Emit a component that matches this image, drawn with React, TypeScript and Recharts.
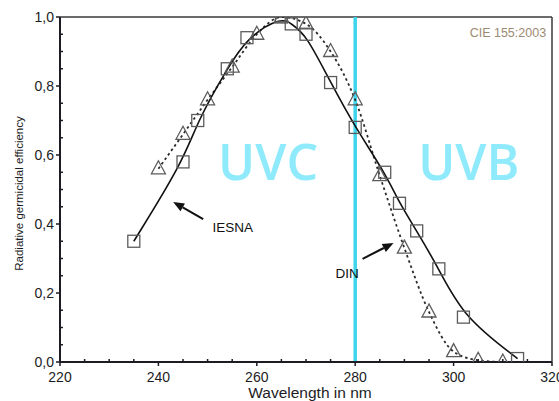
import { ComposedChart, Line, XAxis, YAxis, ReferenceLine, ReferenceDot } from 'recharts';

// IESNA curve (squares, solid line)
const iesnaWavelength = [235, 245, 248, 254, 258, 265, 267, 270, 275, 280, 286, 289, 292.5, 297, 302, 313];
const iesnaValue = [0.35, 0.58, 0.7, 0.85, 0.94, 1.0, 0.98, 0.95, 0.81, 0.68, 0.55, 0.46, 0.38, 0.27, 0.13, 0.01];

// DIN curve (triangles, dotted line)
const dinWavelength = [240, 245, 250, 255, 260, 265, 270, 275, 280, 285, 290, 295, 300, 305, 310];
const dinValue = [0.56, 0.66, 0.76, 0.855, 0.95, 1.0, 0.98, 0.9, 0.76, 0.54, 0.33, 0.145, 0.03, 0.005, 0];

const xTicks = [220, 225, 230, 235, 240, 245, 250, 255, 260, 265, 270, 275, 280, 285, 290, 295, 300, 305, 310, 315, 320];
const yTicks = [0, 0.05, 0.1, 0.15, 0.2, 0.25, 0.3, 0.35, 0.4, 0.45, 0.5, 0.55, 0.6, 0.65, 0.7, 0.75, 0.8, 0.85, 0.9, 0.95, 1.0];

const UV_BOUNDARY = 280;

const iesnaData = iesnaWavelength.map((x, i) => ({ x, y: iesnaValue[i] }));
const dinData = dinWavelength.map((x, i) => ({ x, y: dinValue[i] }));

const FONT = '"Liberation Sans", Arial, sans-serif';
const INK = '#1c1c24';
const MARKER = '#5c5c5c';

function XTick({ x, y, payload }: any) {
  const v = payload.value;
  const major = v % 20 === 0;
  return (
    <g>
      {major ? (
        <line x1={x} y1={y} x2={x} y2={y + 4} stroke={INK} strokeWidth={1.5} />
      ) : (
        <line x1={x} y1={y} x2={x} y2={y - 3} stroke={INK} strokeWidth={1.5} />
      )}
      {major && (
        <text x={x} y={y + 20} textAnchor="middle" fontSize={14} fontFamily={FONT} fill={INK}>
          {v}
        </text>
      )}
    </g>
  );
}

function YTick({ x, y, payload }: any) {
  const v = payload.value;
  const major = Math.round(v * 100) % 20 === 0;
  return (
    <g>
      {major ? (
        <line x1={x} y1={y} x2={x - 4} y2={y} stroke={INK} strokeWidth={1.5} />
      ) : (
        <line x1={x} y1={y} x2={x + 3} y2={y} stroke={INK} strokeWidth={1.5} />
      )}
      {major && (
        <text x={x - 6} y={y + 5} textAnchor="end" fontSize={14} fontFamily={FONT} fill={INK}>
          {v.toFixed(1).replace('.', ',')}
        </text>
      )}
    </g>
  );
}

function SquareDot({ cx, cy, index }: any) {
  if (cx == null || cy == null) return <g key={index} />;
  return <rect key={index} x={cx - 6} y={cy - 6} width={12} height={12} fill="none" stroke={MARKER} strokeWidth={1.3} />;
}

function TriangleDot({ cx, cy, index }: any) {
  if (cx == null || cy == null) return <g key={index} />;
  const pts = `${cx},${cy - 8} ${cx - 7},${cy + 5} ${cx + 7},${cy + 5}`;
  return <polygon key={index} points={pts} fill="none" stroke={MARKER} strokeWidth={1.3} />;
}

function Arrow({ x1, y1, x2, y2 }: any) {
  const ang = Math.atan2(y2 - y1, x2 - x1);
  const len = 11;
  const w = 4.5;
  const bx = x2 - len * Math.cos(ang);
  const by = y2 - len * Math.sin(ang);
  const px = -Math.sin(ang) * w;
  const py = Math.cos(ang) * w;
  return (
    <g>
      <line x1={x1} y1={y1} x2={bx} y2={by} stroke="#111" strokeWidth={2} />
      <polygon points={`${x2},${y2} ${bx + px},${by + py} ${bx - px},${by - py}`} fill="#111" />
    </g>
  );
}

function textShape(text: string, opts: any) {
  return ({ cx, cy }: any) => (
    <text x={cx} y={cy} {...opts}>
      {text}
    </text>
  );
}

export default function App() {
  return (
    <div style={{ position: 'absolute', left: 0, top: 0, width: 559, height: 401, background: '#fff' }}>
      <ComposedChart width={559} height={401} margin={{ top: 17, right: 7, left: 0, bottom: 0 }}>
        <XAxis
          dataKey="x"
          type="number"
          domain={[220, 320]}
          ticks={xTicks}
          interval={0}
          height={39}
          tickSize={0}
          tickMargin={0}
          tickLine={false}
          tick={<XTick />}
          axisLine={{ stroke: INK, strokeWidth: 2 }}
          allowDataOverflow
          label={{
            content: ({ viewBox }: any) => (
              <text x={viewBox.x + viewBox.width / 2 + 4} y={viewBox.y + 36} textAnchor="middle" fontSize={15.5} fontFamily={FONT} fill={INK}>
                Wavelength in nm
              </text>
            ),
          }}
        />
        <YAxis
          type="number"
          domain={[0, 1]}
          ticks={yTicks}
          interval={0}
          width={60}
          tickSize={0}
          tickMargin={0}
          tickLine={false}
          tick={<YTick />}
          axisLine={{ stroke: INK, strokeWidth: 2 }}
          allowDataOverflow
          label={{
            content: ({ viewBox }: any) => {
              const lx = 19;
              const ly = viewBox.y + viewBox.height / 2 + 4;
              return (
                <text x={lx} y={ly} transform={`rotate(-90 ${lx} ${ly})`} textAnchor="middle" dominantBaseline="central" fontSize={11.5} fontFamily={FONT} fill={INK}>
                  Radiative germicidal efficiency
                </text>
              );
            },
          }}
        />

        <ReferenceLine y={1} stroke="#3a3a3a" strokeWidth={1.5} />
        <ReferenceLine x={320} stroke="#3a3a3a" strokeWidth={1.5} />
        <ReferenceLine x={UV_BOUNDARY} stroke="#3dd4ec" strokeWidth={3.5} />

        <ReferenceDot x={262.3} y={0.528} r={0} shape={textShape('UVC', { textAnchor: 'middle', fontSize: 50, fontWeight: 600, fontFamily: '"Open Sans", sans-serif', fill: '#8feafb' })} />
        <ReferenceDot x={303.1} y={0.528} r={0} shape={textShape('UVB', { textAnchor: 'middle', fontSize: 50, fontWeight: 600, fontFamily: '"Open Sans", sans-serif', fill: '#8feafb' })} />
        <ReferenceDot x={318.8} y={0.942} r={0} shape={textShape('CIE 155:2003', { textAnchor: 'end', fontSize: 12.5, fontFamily: FONT, fill: '#9c8a72' })} />
        <ReferenceDot x={251.0} y={0.377} r={0} shape={textShape('IESNA', { textAnchor: 'start', fontSize: 13.5, fontFamily: FONT, fill: '#111' })} />
        <ReferenceDot x={276.0} y={0.243} r={0} shape={textShape('DIN', { textAnchor: 'start', fontSize: 13.5, fontFamily: FONT, fill: '#111' })} />

        <ReferenceLine segment={[{ x: 249.1, y: 0.414 }, { x: 243.0, y: 0.464 }]} shape={(p: any) => <Arrow {...p} />} />
        <ReferenceLine segment={[{ x: 281.5, y: 0.299 }, { x: 287.8, y: 0.345 }]} shape={(p: any) => <Arrow {...p} />} />

        <Line
          data={dinData}
          dataKey="y"
          type="monotone"
          stroke="#2a2a2a"
          strokeWidth={1.8}
          strokeDasharray="2.5 3"
          dot={<TriangleDot />}
          activeDot={false}
          isAnimationActive={false}
        />
        <Line
          data={iesnaData}
          dataKey="y"
          type="basis"
          stroke="#111"
          strokeWidth={1.6}
          dot={<SquareDot />}
          activeDot={false}
          isAnimationActive={false}
        />
      </ComposedChart>
    </div>
  );
}
